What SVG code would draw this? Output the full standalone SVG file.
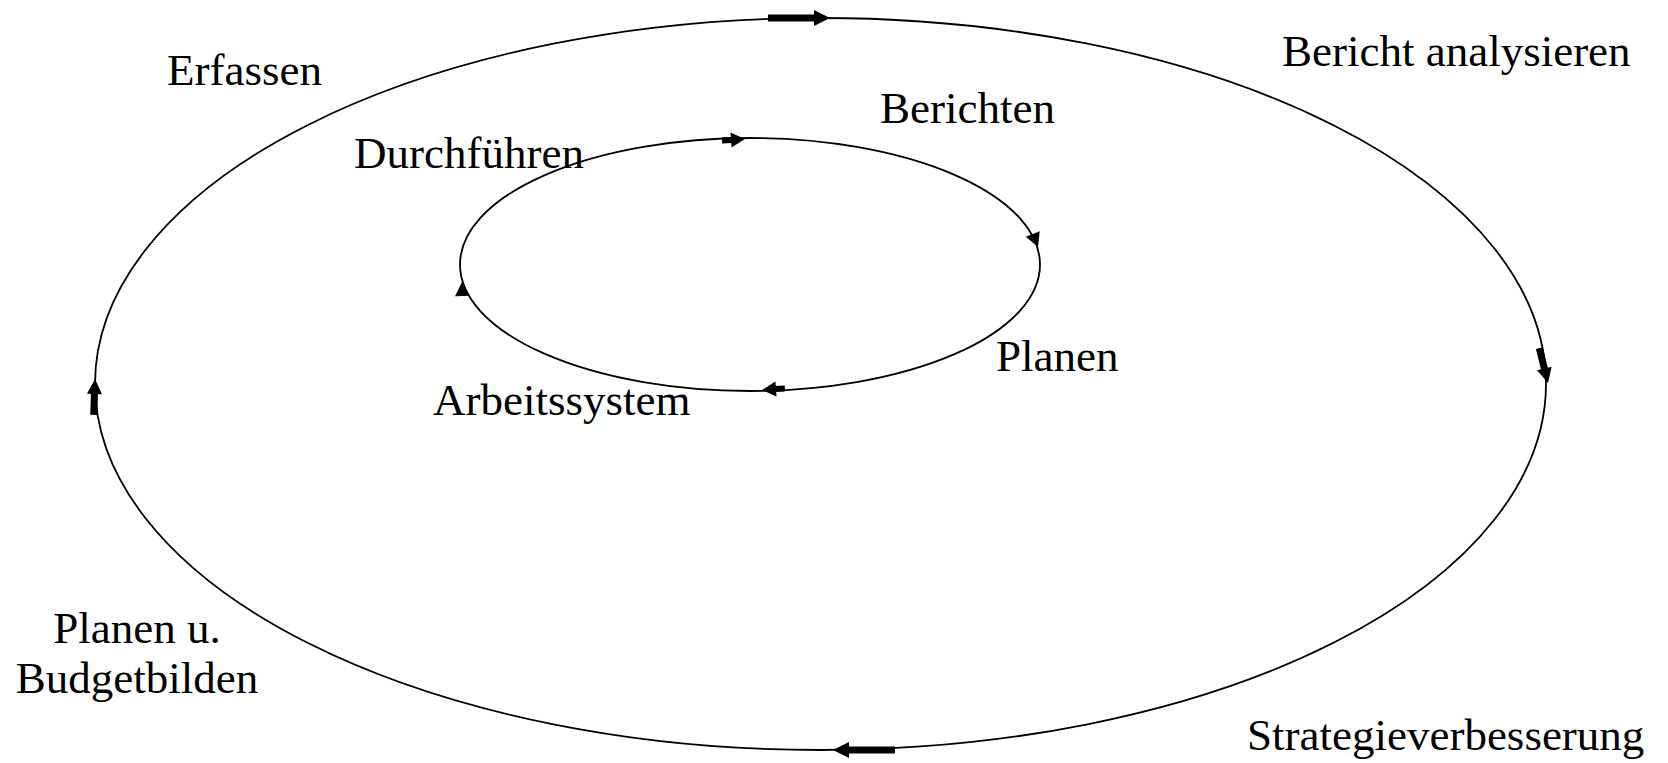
<svg xmlns="http://www.w3.org/2000/svg" width="1668" height="763" viewBox="0 0 1668 763">
<style>
.ring{fill:none;stroke:#000;stroke-width:1.8}
.lbl{font-family:"Liberation Serif","Times New Roman",serif;font-size:45px;fill:#000}
.shaft{fill:#000}
.head{fill:#000}
</style>
<defs>
<g id="bigArrow"><rect class="shaft" x="-62" y="-3.5" width="48" height="7"/><polygon class="head" points="0,0 -16,-8 -16,8"/></g>
<g id="midArrow"><rect class="shaft" x="-36" y="-3.5" width="22" height="7"/><polygon class="head" points="0,0 -15,-7.5 -15,7.5"/></g>
<g id="smallArrow"><rect class="shaft" x="-23" y="-3" width="10" height="6"/><polygon class="head" points="0,0 -14,-7.5 -14,7.5"/></g>
<g id="headOnly"><polygon class="head" points="0,0 -14,-7.5 -14,7.5"/></g>
</defs>
<g id="connectors">
<ellipse id="outer-cycle" class="ring" cx="820.5" cy="384" rx="725.5" ry="366"/>
<ellipse id="inner-cycle" class="ring" cx="750" cy="264.5" rx="290" ry="126.5"/>
<use href="#bigArrow" transform="translate(830,18)"/>
<use href="#midArrow" transform="translate(1548,383) rotate(76)"/>
<use href="#bigArrow" transform="translate(833,750) rotate(180)"/>
<use href="#midArrow" transform="translate(95,379) rotate(-88)"/>
<use href="#smallArrow" transform="translate(745,139) rotate(-4)"/>
<use href="#headOnly" transform="translate(1038,247) rotate(68)"/>
<use href="#smallArrow" transform="translate(762,390) rotate(176)"/>
<use href="#headOnly" transform="translate(462,282) rotate(-92)"/>
</g>
<g id="node-erfassen"><text class="lbl" x="167" y="85">Erfassen</text></g>
<g id="node-bericht-analysieren"><text class="lbl" x="1282" y="66">Bericht analysieren</text></g>
<g id="node-berichten"><text class="lbl" x="880" y="123">Berichten</text></g>
<g id="node-durchfuehren"><text class="lbl" x="354" y="168">Durchführen</text></g>
<g id="node-planen"><text class="lbl" x="996" y="371">Planen</text></g>
<g id="node-arbeitssystem"><text class="lbl" x="433" y="415">Arbeitssystem</text></g>
<g id="node-planen-budget"><text class="lbl" x="137" y="643" text-anchor="middle">Planen u.</text><text class="lbl" x="137" y="693" text-anchor="middle">Budgetbilden</text></g>
<g id="node-strategie"><text class="lbl" x="1247" y="750">Strategieverbesserung</text></g>
</svg>
